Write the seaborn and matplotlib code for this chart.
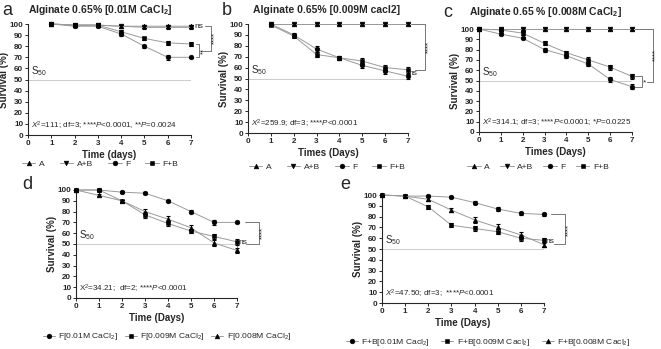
import matplotlib
matplotlib.use('Agg')
import matplotlib.pyplot as plt
import seaborn as sns

sns.set_style('ticks')
plt.rcParams['font.family'] = ['Liberation Sans', 'DejaVu Sans']
plt.rcParams['mathtext.fontset'] = 'custom'
plt.rcParams['mathtext.rm'] = 'Liberation Sans'
plt.rcParams['mathtext.it'] = 'Liberation Sans:italic'
plt.rcParams['mathtext.bf'] = 'Liberation Sans:bold'

# ---- data ----
days_1to7 = [1, 2, 3, 4, 5, 6, 7]
days_0to7 = [0, 1, 2, 3, 4, 5, 6, 7]

# panel a  (0.01M CaCl2)
a_A = [100, 99, 99, 98, 98, 98, 98]
a_AB = [100, 99, 99, 98, 97, 97, 97]
a_F = [100, 98, 98, 91, 80, 70, 70]
a_FB = [100, 99, 99, 93, 87, 83, 82]
a_A_err = [0.5, 1, 1, 1.5, 1.5, 1.5, 1.5]
a_AB_err = [0.5, 1, 1, 1.5, 1.5, 1.5, 1.5]
a_F_err = [0.5, 1, 1, 1.5, 1.5, 2, 0.5]
a_FB_err = [0.5, 1, 1, 1.5, 1.5, 1.5, 1.5]

# panel b  (0.009M CaCl2)
b_A = [100, 100, 100, 100, 100, 100, 100]
b_AB = [100, 100, 100, 100, 100, 100, 100]
b_F = [100, 90, 77, 69, 62, 57, 52]
b_FB = [99, 89, 72, 69, 66, 60, 58]
b_A_err = [1, 1, 1, 1, 1, 1, 1]
b_F_err = [1, 1.5, 2.5, 2, 2.5, 2.5, 2.5]
b_FB_err = [1, 1.5, 2.5, 2, 2.5, 2.5, 2.5]

# panel c  (0.008M CaCl2)
c_A = [100, 100, 100, 100, 100, 100, 100, 100]
c_AB = [100, 100, 100, 100, 100, 100, 100, 100]
c_F = [100, 95, 91, 80, 74, 66, 51, 44]
c_FB = [100, 99, 96, 86, 77, 70, 63, 54]
c_A_err = [0, 1, 1, 1, 1, 1, 1, 1]
c_F_err = [0, 1, 1, 2, 2, 2, 2.5, 2.5]
c_FB_err = [0, 1, 1.5, 2, 2, 2.5, 2.5, 2.5]

# panel d  (F at three CaCl2 levels)
d_01 = [100, 100, 98, 97, 90, 80, 70, 70]
d_009 = [100, 100, 90, 77, 69, 62, 57, 52]
d_008 = [100, 95, 90, 80, 73, 65, 51, 44]
d_01_err = [0, 0.5, 1, 1, 1, 1.5, 2, 0.5]
d_009_err = [0, 0.5, 1, 2.5, 2, 2, 2, 2.5]
d_008_err = [0, 1, 1, 2.5, 3, 3, 2.5, 2.5]

# panel e  (F+B at three CaCl2 levels)
e_01 = [100, 99, 99, 98, 93, 87, 83, 82]
e_009 = [100, 99, 89, 72, 69, 66, 60, 58]
e_008 = [100, 99, 96, 86, 77, 70, 63, 54]
e_01_err = [0, 1, 1, 1, 1, 1.5, 1.5, 1.5]
e_009_err = [0, 1, 1.5, 2, 2, 2.5, 3, 2.5]
e_008_err = [0, 1, 2, 2, 3, 3, 3, 2.5]

W, H = 661, 349
fig = plt.figure(figsize=(W / 100, H / 100), dpi=100)


def make_ax(left, right, top, bottom):
    return fig.add_axes([left / W, 1 - bottom / H, (right - left) / W, (bottom - top) / H])


def draw(ax, x, y, err, marker, label, ms=3.4):
    sns.lineplot(x=x, y=y, ax=ax, color='#9a9a9a', lw=0.7, marker=marker, ms=ms,
                 mfc='black', mec='black', mew=0.4, label=label, clip_on=False, zorder=3)
    ax.errorbar(x, y, yerr=err, fmt='none', ecolor='black', elinewidth=0.8,
                capsize=1.6, capthick=0.8, clip_on=False, zorder=4)


def style(ax, xlabel, stats):
    ax.set_xlim(0, 7)
    ax.set_ylim(0, 100)
    ax.set_xticks(range(8), labels=[str(i) for i in range(8)], fontweight='bold')
    ax.set_yticks(range(0, 101, 10), labels=[str(i) for i in range(0, 101, 10)], fontweight='bold')
    ax.tick_params(labelsize=5.8, length=2.5, width=0.7, pad=1)
    sns.despine(ax=ax)
    for s in ['left', 'bottom']:
        ax.spines[s].set_linewidth(0.8)
    ax.set_xlabel(xlabel, fontsize=7, fontweight='bold', labelpad=2)
    ax.set_ylabel('Survival (%)', fontsize=7, fontweight='bold', labelpad=0.5)
    ax.axhline(50, color='#cccccc', lw=0.7, zorder=1)
    ax.text(0.15, 51.5, r'S$_{50}$', fontsize=7, ha='left', va='bottom')
    ax.text(0.15, 3, stats, fontsize=5.8, ha='left', va='bottom')


def bracket(ax, x0, x1, y0, y1, xr0=None):
    xr0 = x0 if xr0 is None else xr0
    ax.plot([x0, x1, x1, xr0], [y0, y0, y1, y1], color='#777777', lw=0.7, clip_on=False)


def legend(ax, cx, cy, ncol, colsp=1.5, hl=1.6):
    leg = ax.legend(loc='center', bbox_to_anchor=(cx / W, 1 - cy / H), bbox_transform=fig.transFigure,
                    ncol=ncol, frameon=False, fontsize=6.1, handlelength=hl, columnspacing=colsp,
                    handletextpad=0.4)
    return leg


# ---- panel a ----
ax = make_ax(28, 191, 24, 135)
draw(ax, days_1to7, a_A, a_A_err, '^', 'A')
draw(ax, days_1to7, a_AB, a_AB_err, 'v', 'A+B')
draw(ax, days_1to7, a_F, a_F_err, 'o', 'F')
draw(ax, days_1to7, a_FB, a_FB_err, 's', 'F+B')
style(ax, 'Time (days)', r'$X^2$=111; df=3; ****$P$<0.0001, **$P$=0.0024')
ax.text(7.15, 98, 'ns', fontsize=6, va='center', ha='left')
bracket(ax, 7.2, 7.35, 82, 70)
ax.text(7.38, 76, '**', fontsize=5.5, rotation=90, va='center', ha='left')
bracket(ax, 7.6, 7.85, 98, 76, xr0=7.45)
ax.text(7.85, 87, '****', fontsize=5.5, rotation=90, va='center', ha='left')
legend(ax, 100, 164, 4, 1.8)
fig.text(2 / W, 1 - 2 / H, 'a', fontsize=13, va='top', ha='left')
fig.text(100 / W, 1 - 10 / H, r'Alginate 0.65% [0.01M CaCl$_\mathbf{2}$]', fontsize=7.5,
         fontweight='bold', ha='center', va='center')

# ---- panel b ----
ax = make_ax(248, 408, 24, 133)
draw(ax, days_1to7, b_A, b_A_err, '^', 'A')
draw(ax, days_1to7, b_AB, b_A_err, 'v', 'A+B')
draw(ax, days_1to7, b_F, b_F_err, 'o', 'F')
draw(ax, days_1to7, b_FB, b_FB_err, 's', 'F+B')
style(ax, 'Times (Days)', r'$X^2$=259.9; df=3; ****$P$<0.0001')
ax.text(7.0, 55, 'ns', fontsize=6, va='center', ha='left')
bracket(ax, 7.15, 7.75, 100, 58, xr0=7.3)
ax.text(7.75, 79, '****', fontsize=5.5, rotation=90, va='center', ha='left')
legend(ax, 327, 167, 4, 1.8)
fig.text(222 / W, 1 - 2 / H, 'b', fontsize=13, va='top', ha='left')
fig.text(327 / W, 1 - 10 / H, 'Alginate 0.65% [0.009M cacl2]', fontsize=7.5,
         fontweight='bold', ha='center', va='center')

# ---- panel c ----
ax = make_ax(479, 632, 29, 132)
draw(ax, days_0to7, c_A, c_A_err, '^', 'A')
draw(ax, days_0to7, c_AB, c_A_err, 'v', 'A+B')
draw(ax, days_0to7, c_F, c_F_err, 'o', 'F')
draw(ax, days_0to7, c_FB, c_FB_err, 's', 'F+B')
style(ax, 'Times (Days)', r'$X^2$=314.1; df=3; ****$P$<0.0001; *$P$=0.0225')
bracket(ax, 7.15, 7.45, 54, 44)
ax.text(7.52, 48, '*', fontsize=6, va='center', ha='left')
bracket(ax, 7.15, 7.95, 100, 49, xr0=7.7)
ax.text(7.93, 75, '****', fontsize=5.5, rotation=90, va='center', ha='left')
legend(ax, 538, 167, 4, 1.2)
fig.text(443 / W, 1 - 4 / H, 'c', fontsize=13, va='top', ha='left')
fig.text(545 / W, 1 - 12 / H, r'Alginate 0.65 % [0.008M CaCl$_\mathbf{2}$]', fontsize=7.5,
         fontweight='bold', ha='center', va='center')

# ---- panel d ----
ax = make_ax(76, 237, 190, 298)
draw(ax, days_0to7, d_01, d_01_err, 'o', r'F[0.01M CaCl$_2$]')
draw(ax, days_0to7, d_009, d_009_err, 's', r'F[0.009M CaCl$_2$]')
draw(ax, days_0to7, d_008, d_008_err, '^', r'F[0.008M CaCl$_2$]')
style(ax, 'Time (Days)', r'X$^2$=34.21;  df=2; ****$P$<0.0001')
ax.text(7.05, 51, 'ns', fontsize=6, va='center', ha='left')
ax.plot([7.0, 7.0], [54, 44], color='#777777', lw=0.6, clip_on=False)
bracket(ax, 7.35, 7.95, 70, 50, xr0=7.4)
ax.text(7.95, 60, '****', fontsize=5.5, rotation=90, va='center', ha='left')
legend(ax, 167, 337, 3, 0.8, 1.4)
fig.text(22 / W, 1 - 176 / H, 'd', fontsize=13, va='top', ha='left')

# ---- panel e ----
ax = make_ax(382, 544, 195, 303)
draw(ax, days_0to7, e_01, e_01_err, 'o', r'F+B[0.01M Cacl$_2$]')
draw(ax, days_0to7, e_009, e_009_err, 's', r'F+B[0.009M Cacl$_2$]')
draw(ax, days_0to7, e_008, e_008_err, '^', r'F+B[0.008M Cacl$_2$]')
style(ax, 'Time (Days)', r'$X^2$=47.50; df=3;  ****$P$<0.0001')
ax.text(7.05, 57, 'ns', fontsize=6, va='center', ha='left')
bracket(ax, 7.3, 7.9, 82, 55, xr0=7.45)
ax.text(7.9, 68, '****', fontsize=5.5, rotation=90, va='center', ha='left')
legend(ax, 488, 342, 3, 1.4, 1.4)
fig.text(340 / W, 1 - 176 / H, 'e', fontsize=13, va='top', ha='left')

fig.savefig('out.png', dpi=100)
